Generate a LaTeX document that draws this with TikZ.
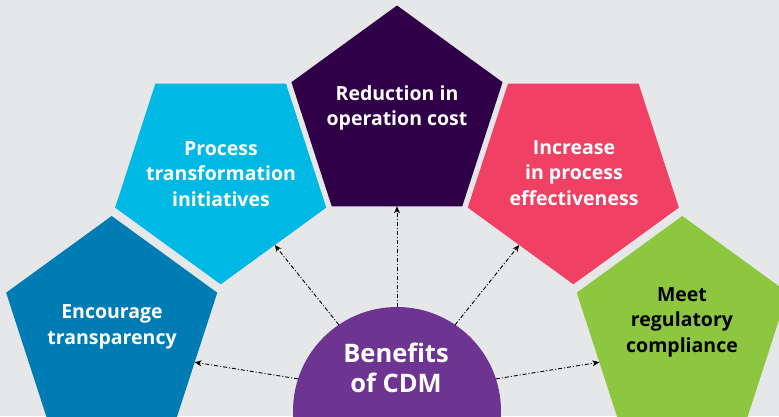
\documentclass[tikz,border=0pt]{standalone}
\usepackage{fontspec}
\setmainfont{Open Sans}
\usetikzlibrary{shapes.geometric,arrows.meta}
\definecolor{bgc}{HTML}{E6E7E9}
\definecolor{cblue}{HTML}{007CB4}
\definecolor{ccyan}{HTML}{00B8E4}
\definecolor{cdark}{HTML}{2F0048}
\definecolor{cpink}{HTML}{F04064}
\definecolor{cgreen}{HTML}{8DC63F}
\definecolor{cpurple}{HTML}{6D3591}
\begin{document}
\begin{tikzpicture}[x=1pt,y=-1pt,
  penta/.style={regular polygon, regular polygon sides=5, minimum size=222pt,
    inner sep=0pt, outer sep=0pt, draw=none},
  pdown/.style={shape border rotate=180},
  ptext/.style={text=white, font=\bfseries\fontsize{19.5}{25.5}\selectfont, align=center, inner sep=0pt},
  link/.style={draw=black, line width=0.9pt, dash pattern=on 4pt off 2pt on 1pt off 2pt,
    -{Stealth[length=7pt,width=6pt]}}]
\useasboundingbox (0,0) rectangle (779,416);
\fill[bgc] (0,0) rectangle (779,416);
\begin{scope}
\clip (0,0) rectangle (779,416);
\node[penta, fill=cblue] (p1) at (111.7,327) {};
\node[penta, pdown, fill=ccyan] (p2) at (220.7,173.3) {};
\node[penta, fill=cdark] (p3) at (397,116.5) {};
\node[penta, pdown, fill=cpink] (p4) at (573.3,173.3) {};
\node[penta, fill=cgreen] (p5) at (682.3,327) {};
\node[circle, fill=cpurple, minimum size=208pt, inner sep=0pt, outer sep=0pt] (c) at (397,411) {};
\end{scope}
\node[ptext] (t1) at (112,327) {Encourage\\transparency};
\node[ptext] (t2) at (221,174) {Process\\transformation\\initiatives};
\node[ptext] (t3) at (397,108) {Reduction in\\operation cost};
\node[ptext] (t4) at (574,173) {Increase\\in process\\effectiveness};
\node[ptext, text=black] (t5) at (682,322) {Meet\\regulatory\\compliance};
\node[text=white, font=\bfseries\fontsize{25.5}{30}\selectfont, align=center, inner sep=0pt] (ct) at (396,368) {Benefits\\of CDM};
\draw[link] (c.162) -- (p1.-23);
\draw[link] (c.124) -- (p2.-53);
\draw[link] (c.90) -- (p3.south);
\draw[link] (c.56) -- (p4.-127);
\draw[link] (c.18) -- (p5.-157);
\end{tikzpicture}
\end{document}
